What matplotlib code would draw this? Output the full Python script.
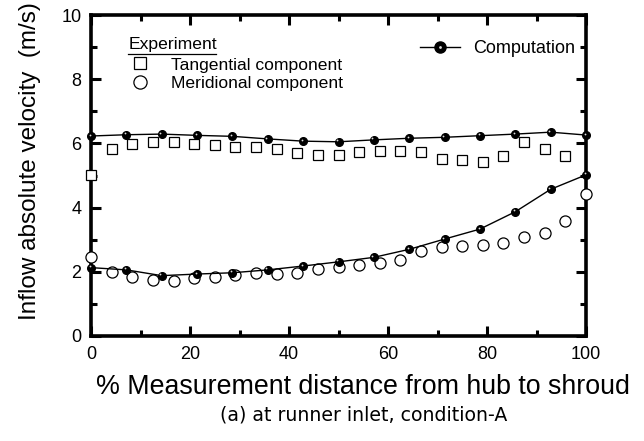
import numpy as np
import matplotlib
matplotlib.use("Agg")
import matplotlib.pyplot as plt
from matplotlib.lines import Line2D
from matplotlib.ticker import MultipleLocator
from matplotlib.transforms import offset_copy
from matplotlib.legend_handler import HandlerTuple

plt.rcParams['font.family'] = ['Liberation Sans', 'DejaVu Sans']

# ---- data ----
exp_x = [0, 4.17, 8.33, 12.5, 16.67, 20.83, 25, 29.17, 33.33, 37.5, 41.67, 45.83,
         50, 54.17, 58.33, 62.5, 66.67, 70.83, 75, 79.17, 83.33, 87.5, 91.67, 95.83, 100]
tangential = [5.02, 5.82, 5.97, 6.03, 6.03, 5.98, 5.95, 5.88, 5.88, 5.83, 5.69, 5.65,
              5.65, 5.74, 5.77, 5.77, 5.74, 5.51, 5.48, 5.43, 5.61, 6.03, 5.83, 5.62, None]
meridional = [2.45, 2.00, 1.85, 1.74, 1.71, 1.80, 1.85, 1.90, 1.95, 1.93, 1.95, 2.08,
              2.14, 2.21, 2.26, 2.37, 2.64, 2.78, 2.80, 2.83, 2.91, 3.07, 3.20, 3.58, 4.41]

comp_x = [0, 7.14, 14.29, 21.43, 28.57, 35.71, 42.86, 50, 57.14, 64.29, 71.43,
          78.57, 85.71, 92.86, 100]
comp_tangential = [6.23, 6.27, 6.29, 6.25, 6.22, 6.14, 6.07, 6.05, 6.11, 6.16, 6.19,
                   6.24, 6.29, 6.35, 6.26]
comp_meridional = [2.13, 2.06, 1.88, 1.93, 1.97, 2.06, 2.18, 2.31, 2.45, 2.70, 3.02,
                   3.33, 3.87, 4.57, 5.02]

fig = plt.figure(figsize=(6.44, 4.41), dpi=100)
ax = fig.add_axes([91/644, 105/441, 495/644, 321/441])

tx = [x for x, v in zip(exp_x, tangential) if v is not None]
tv = [v for v in tangential if v is not None]
ax.plot(tx, tv, linestyle='none', marker='s', markersize=6.5, mfc='white',
        mec='black', mew=0.9, clip_on=False, zorder=3)
ax.plot(exp_x, meridional, linestyle='none', marker='o', markersize=8, mfc='white',
        mec='black', mew=0.9, clip_on=False, zorder=3)

hl_trans = offset_copy(ax.transData, fig=fig, x=-1.0, y=1.0, units='points')
for cy in (comp_tangential, comp_meridional):
    ax.plot(comp_x, cy, color='black', lw=1.0, marker='o', markersize=5.5,
            mfc='black', mec='black', clip_on=False, zorder=4)
    ax.plot(comp_x, cy, linestyle='none', marker='o', markersize=1.3,
            mfc='#dddddd', mec='none', transform=hl_trans, clip_on=False, zorder=5)

ax.set_xlim(0, 100)
ax.set_ylim(0, 10)
ax.xaxis.set_major_locator(MultipleLocator(20))
ax.xaxis.set_minor_locator(MultipleLocator(10))
ax.yaxis.set_major_locator(MultipleLocator(2))
ax.yaxis.set_minor_locator(MultipleLocator(1))
ax.tick_params(which='both', direction='in', top=True, right=True, width=2.2)
ax.tick_params(which='major', length=7, labelsize=13, pad=7)
ax.tick_params(which='minor', length=4)
for s in ax.spines.values():
    s.set_linewidth(2.6)

ax.set_xlabel('% Measurement distance from hub to shroud', fontsize=19.3)
ax.xaxis.set_label_coords(0.55, -0.118)
ax.set_ylabel('Inflow absolute velocity  (m/s)', fontsize=17.5)
ax.yaxis.set_label_coords(-0.10, 0.545)

# Experiment legend
ax.text(0.075, 0.907, 'Experiment', transform=ax.transAxes, fontsize=12.6,
        va='center', ha='left')
ax.add_line(Line2D([0.075, 0.252], [0.879, 0.879], transform=ax.transAxes,
                   color='black', lw=0.9))
h_sq = Line2D([], [], linestyle='none', marker='s', markersize=9, mfc='white',
              mec='black', mew=0.9)
h_ci = Line2D([], [], linestyle='none', marker='o', markersize=9.5, mfc='white',
              mec='black', mew=0.9)
leg1 = ax.legend([h_sq, h_ci], ['Tangential component', 'Meridional component'],
                 loc='upper left', bbox_to_anchor=(0.064, 0.89), frameon=False,
                 fontsize=12.6, handlelength=1.2, handletextpad=1.15, labelspacing=0.2,
                 borderaxespad=0)
ax.add_artist(leg1)
h_comp = Line2D([], [], color='black', lw=1.0, marker='o', markersize=8,
                mfc='black', mec='black')
h_hl = Line2D([], [], linestyle='none', marker='o', markersize=2, mfc='#dddddd',
              mec='none')
leg2 = ax.legend([(h_comp, h_hl)], ['Computation'], loc='upper left',
                 bbox_to_anchor=(0.651, 0.945), frameon=False, fontsize=13,
                 handlelength=2.2, handletextpad=0.7, borderaxespad=0,
                 handler_map={tuple: HandlerTuple(ndivide=1)})

fig.text(0.564, 0.059, '(a) at runner inlet, condition-A', fontsize=13.6,
         family='DejaVu Sans', ha='center', va='center')

fig.savefig('out.png', dpi=100)
